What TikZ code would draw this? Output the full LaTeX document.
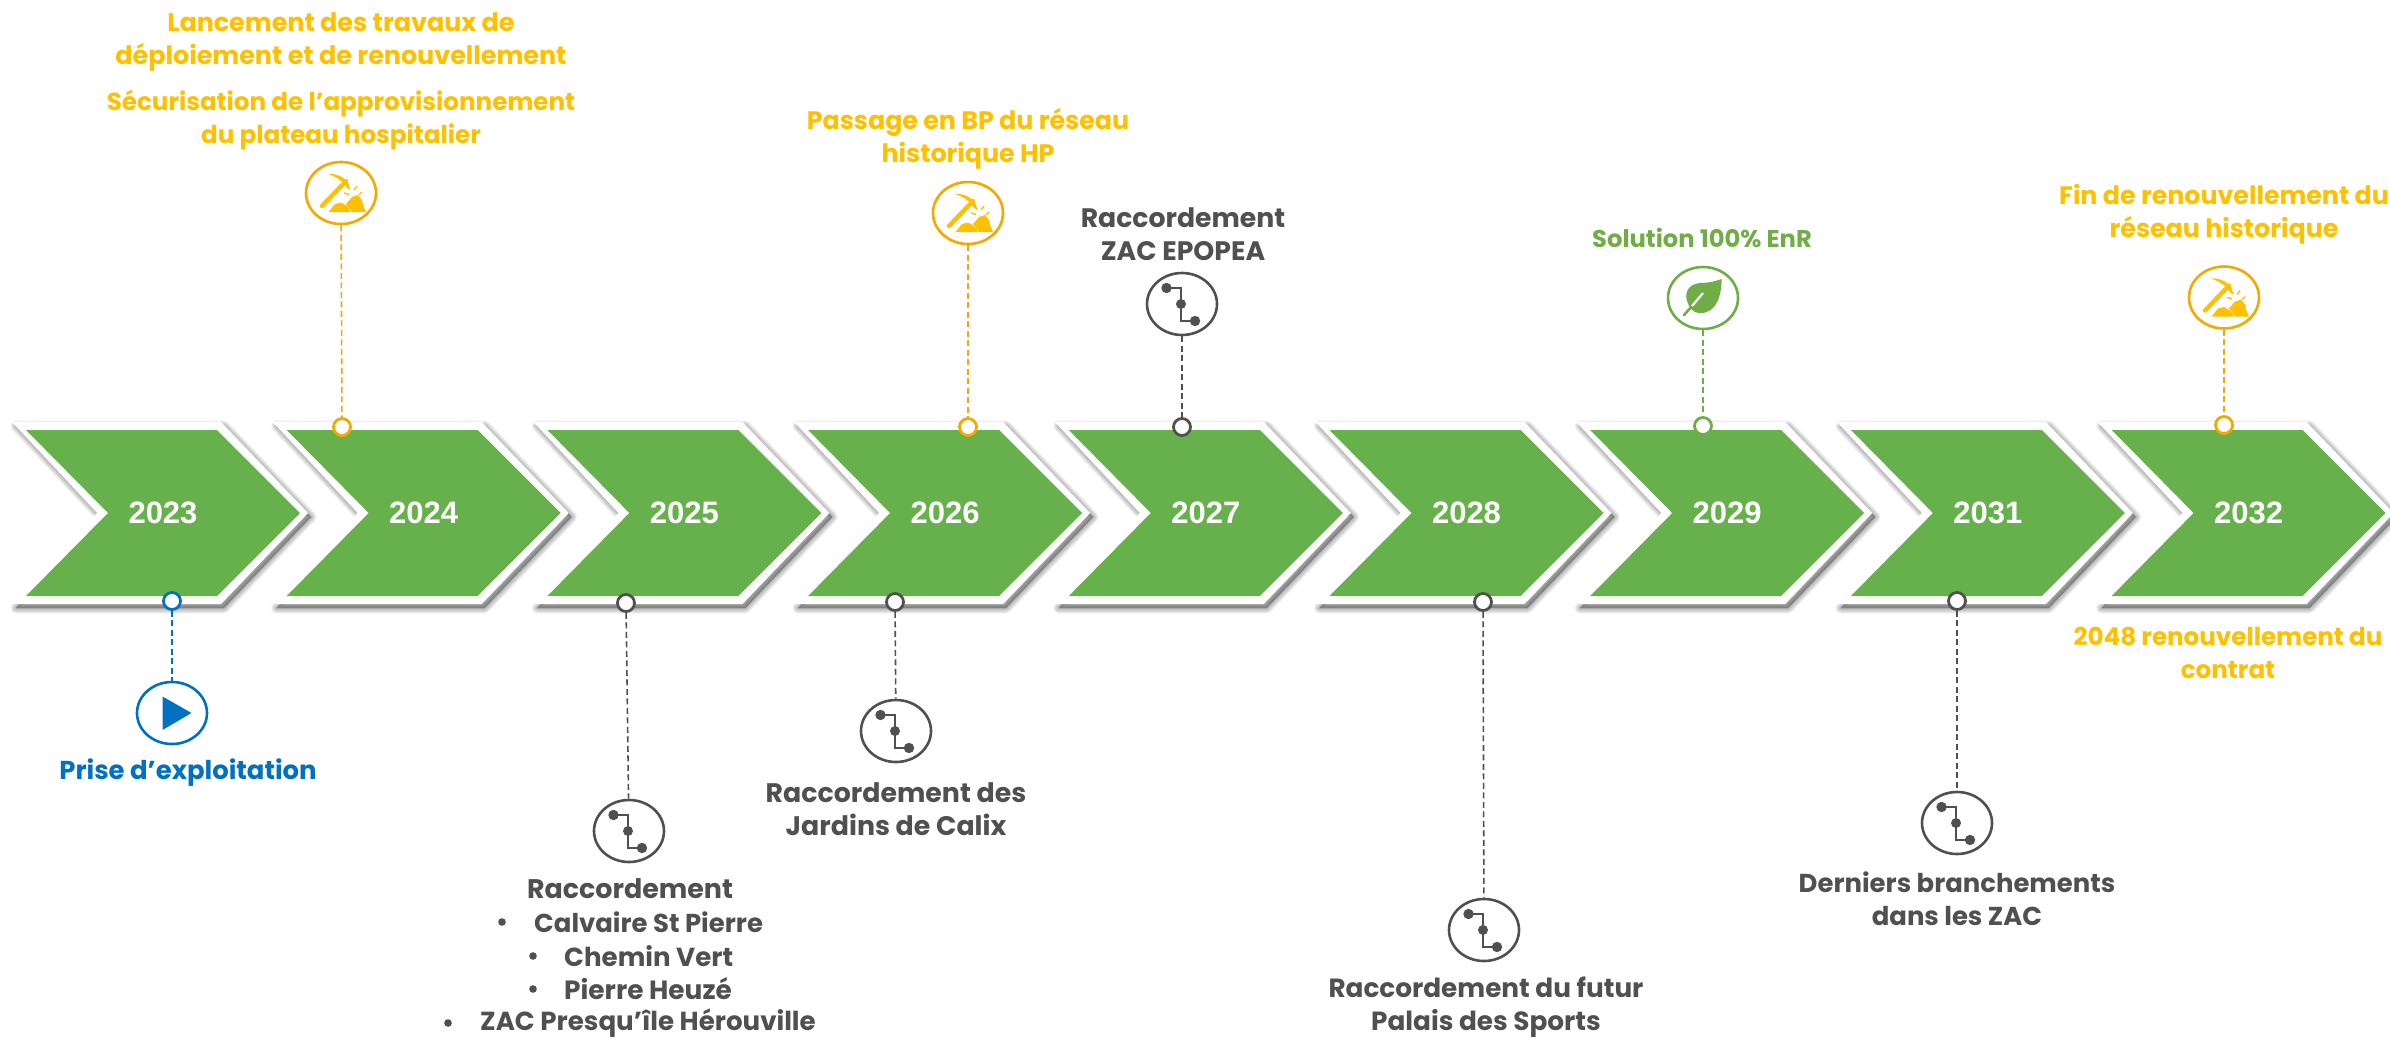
\documentclass[tikz,border=0pt]{standalone}
\usepackage{fontspec}
\setmainfont{Poppins}
\newfontfamily\yearfont{Liberation Sans}
\usetikzlibrary{shapes.geometric}
\definecolor{cgreen}{HTML}{67B14C}
\definecolor{tgreen}{HTML}{70AD47}
\definecolor{cyellow}{HTML}{FFC000}
\definecolor{corange}{HTML}{F5A800}
\definecolor{cblue}{HTML}{0070C0}
\definecolor{cgrey}{HTML}{505050}
\tikzset{
  x=1pt,y=-1pt,
  lbl/.style={align=center,inner sep=0pt,font=\fontsize{#1}{33}\selectfont\bfseries},
  lineitem/.style={anchor=west,inner sep=0pt,text=cgrey,font=\fontsize{#1}{33}\selectfont\bfseries},
  yr/.style={inner sep=0pt,text=white,font=\yearfont\fontsize{31}{33}\selectfont\bfseries},
  badge/.style={ellipse,draw=#1,line width=2.6pt,fill=white,minimum width=70pt,minimum height=62pt,inner sep=0pt},
  pin/.style={circle,draw=#1,line width=2.8pt,fill=white,minimum size=17pt,inner sep=0pt},
  link/.style={draw=#1,line width=1.6pt,dash pattern=on 6pt off 3.5pt},
}
\newcommand{\netglyph}[1]{%
  \begin{scope}[shift={(#1)}]
    \draw[cgrey,line width=2pt] (-15.5,-16) -- (-1,-16) -- (-1,17) -- (13,17);
    \fill[cgrey] (-15.5,-16) circle (5.2pt) (-1,0) circle (5pt) (13,17) circle (5.2pt);
  \end{scope}}
\newcommand{\pickglyph}[1]{%
  \begin{scope}[shift={(#1)}]
    \fill[cyellow] (-13,-19) .. controls (-2,-20) and (9,-13) .. (9,-3) -- (6,-5) .. controls (3,-11) and (-4,-16) .. (-13,-19) -- cycle;
    \draw[cyellow,line width=4.4pt,line cap=round] (-19,13) -- (5,-12);
    \fill[cyellow] (-12.5,19) -- (-6,11) -- (0,9.5) -- (6,13) -- (10,19) -- cycle;
    \fill[cyellow] (5,11) -- (11,4) -- (17,2) -- (21,7) -- (22,12) -- (25,19) -- (11,19) -- cycle;
    \draw[cyellow,line width=1.4pt] (13,-3) -- (16,-7) (3,0) -- (8,1.5) (18,2) -- (21,-1);
  \end{scope}}
\begin{document}
\begin{tikzpicture}
\useasboundingbox (0,0) rectangle (2390,1038);
\fill[white] (0,0) rectangle (2390,1038);
% chevrons
\foreach \i/\yy in {0/2023,1/2024,2/2025,3/2026,4/2027,5/2028,6/2029,7/2031,8/2032}{
  \pgfmathsetmacro{\L}{26+260.7*\i}
  \begin{scope}[shift={(\L,0)}]
    \foreach \w in {11,9,7,5,3,1}{
      \fill[black,fill opacity=.055,draw=black,draw opacity=.055,line width=\w pt,line join=round]
        (-10,426) -- (198,426) -- (285,517) -- (198,608) -- (-10,608) -- (75,517) -- cycle;
    }
    \fill[white] (-14,422) -- (195,422) -- (282,513) -- (195,604) -- (-14,604) -- (71,513) -- cycle;
    \fill[cgreen] (0,430) -- (191,430) -- (274,513) -- (191,596) -- (0,596) -- (82,513) -- cycle;
    \node[yr] (y\yy) at (137,513) {\yy};
  \end{scope}
}
% 2023
\node[pin=cblue] (p23) at (172,601) {};
\node[badge=cblue] (b23) at (172,713) {};
\draw[link=cblue] (p23) -- (b23);
\fill[cblue] (162.5,696.5) -- (162.5,730) -- (191.5,713) -- cycle;
\node[lbl=25.9,text=cblue] (t23) at (188,773) {Prise d’exploitation};
% 2024
\node[pin=corange] (p24) at (342,427) {};
\node[badge=corange] (b24) at (341,193) {};
\draw[link=corange] (b24) -- (p24);
\pickglyph{341,193}
\node[lbl=25.4,text=cyellow] (t24a) at (341,41.5) {Lancement des travaux de\\déploiement et de renouvellement};
\node[lbl=24.6,text=cyellow] (t24b) at (341,120) {Sécurisation de l’approvisionnement\\du plateau hospitalier};
% 2025
\node[pin=cgrey] (p25) at (626,603) {};
\node[badge=cgrey] (b25) at (629,831) {};
\draw[link=cgrey] (p25) -- (b25);
\netglyph{629,831}
\node[lbl=26.9,text=cgrey] (t25) at (630,889) {Raccordement};
\node[lineitem=25.9] (t25a) at (534,922) {Calvaire St Pierre};
\node[lineitem=26.1] (t25b) at (564,956) {Chemin Vert};
\node[lineitem=26.4] (t25c) at (564,989) {Pierre Heuzé};
\node[lineitem=26.1] (t25d) at (480,1023) {ZAC Presqu’île Hérouville};
\fill[cgrey] (502,922) circle (3.8pt) (533,956) circle (3.8pt) (533,989) circle (3.8pt) (448,1023) circle (3.8pt);
% 2026
\node[pin=corange] (p26a) at (968,427) {};
\node[badge=corange] (b26a) at (968,213) {};
\draw[link=corange] (b26a) -- (p26a);
\pickglyph{968,213}
\node[lbl=25.3,text=cyellow] (t26a) at (968,139) {Passage en BP du réseau\\historique HP};
\node[pin=cgrey] (p26b) at (895,602) {};
\node[badge=cgrey] (b26b) at (896,731) {};
\draw[link=cgrey] (p26b) -- (b26b);
\netglyph{896,731}
\node[lbl=26.8,text=cgrey] (t26b) at (896,809) {Raccordement des\\Jardins de Calix};
% 2027
\node[pin=cgrey] (p27) at (1182,427) {};
\node[badge=cgrey] (b27) at (1182,304) {};
\draw[link=cgrey] (b27) -- (p27);
\netglyph{1182,304}
\node[lbl=26.7,text=cgrey] (t27) at (1183,234) {Raccordement\\ZAC EPOPEA};
% 2028
\node[pin=cgrey] (p28) at (1483,602) {};
\node[badge=cgrey] (b28) at (1484,930) {};
\draw[link=cgrey] (p28) -- (b28);
\netglyph{1484,930}
\node[lbl=26.3,text=cgrey] (t28) at (1486,1007) {Raccordement du futur\\Palais des Sports};
% 2029
\node[pin=tgreen] (p29) at (1703,426) {};
\node[badge=tgreen] (b29) at (1703,298) {};
\draw[link=tgreen] (b29) -- (p29);
\begin{scope}[shift={(1703,298)}]
  \fill[tgreen] (-12,11) .. controls (-22,-4) and (-15,-14) .. (-3,-15) .. controls (6,-15) and (13,-17) .. (18.5,-19) .. controls (19,-5) and (14,16) .. (-3,15) .. controls (-7,15) and (-10,13) .. (-12,11) -- cycle;
  \draw[tgreen,line width=2.6pt,line cap=round] (-19,17) -- (-11,8);
  \draw[white,line width=2.2pt] (-11,8) -- (0,-5);
\end{scope}
\node[lbl=24.2,text=tgreen] (t29) at (1702,238) {Solution 100\% EnR};
% 2031
\node[pin=cgrey] (p31) at (1957,601) {};
\node[badge=cgrey] (b31) at (1957,823) {};
\draw[link=cgrey] (p31) -- (b31);
\netglyph{1957,823}
\node[lbl=25.9,text=cgrey] (t31) at (1957,899) {Derniers branchements\\dans les ZAC};
% 2032
\node[pin=corange] (p32) at (2224,425) {};
\node[badge=corange] (b32) at (2224,297.5) {};
\draw[link=corange] (b32) -- (p32);
\pickglyph{2224,297.5}
\node[lbl=25.3,text=cyellow] (t32a) at (2224,214) {Fin de renouvellement du\\réseau historique};
\node[lbl=24.6,text=cyellow] (t32b) at (2228,652.5) {2048 renouvellement du\\contrat};
\end{tikzpicture}
\end{document}
